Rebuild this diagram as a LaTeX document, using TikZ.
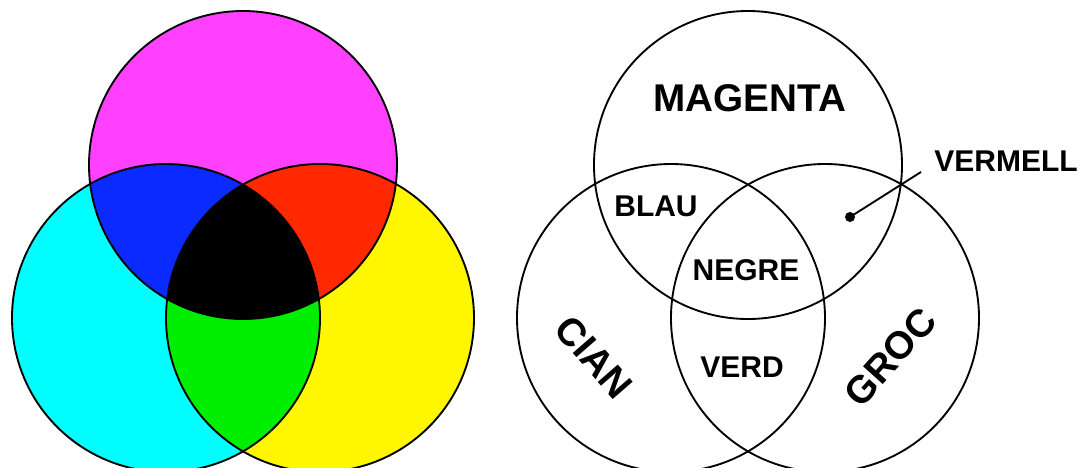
\documentclass[tikz,border=0pt]{standalone}
\usepackage{fontspec}
\setmainfont{Liberation Sans}
\usepackage{xcolor}
\usetikzlibrary{positioning}
\definecolor{Magenta}{RGB}{255,64,255}
\definecolor{Cian}{RGB}{0,255,255}
\definecolor{Groc}{RGB}{255,247,0}
\definecolor{Blau}{RGB}{10,42,255}
\definecolor{Vermell}{RGB}{255,40,0}
\definecolor{Verd}{RGB}{0,238,0}
\begin{document}
\begin{tikzpicture}[
    x=0.75pt, y=-0.75pt,
    ring/.style={draw=black, line width=1.4pt},
    big/.style={font=\bfseries\fontsize{29}{34}\selectfont},
    lbl/.style={font=\bfseries\fontsize{22.5}{27}\selectfont},
    dot/.style={circle, fill=black, inner sep=0pt, minimum size=7.5pt}
]
    \useasboundingbox (0,0) rectangle (1083,468);
    \clip (0,0) rectangle (1083,468);
    % coloured circles
    \fill[Magenta] (243,165) circle (154);
    \fill[Cian] (166,318) circle (154);
    \fill[Groc] (320,318) circle (154);
    \begin{scope}
        \clip (243,165) circle (154);
        \fill[Blau] (166,318) circle (154);
        \fill[Vermell] (320,318) circle (154);
        \clip (166,318) circle (154);
        \fill[black] (320,318) circle (154);
    \end{scope}
    \begin{scope}
        \clip (166,318) circle (154);
        \clip (320,318) circle (154);
        \fill[Verd] (320,318) circle (154);
        \clip (243,165) circle (154);
        \fill[black] (243,165) circle (154);
    \end{scope}
    \draw[ring] (243,165) circle (154);
    \draw[ring] (166,318) circle (154);
    \draw[ring] (320,318) circle (154);
    % names
    \draw[ring] (748,165) circle (154);
    \draw[ring] (671,318) circle (154);
    \draw[ring] (825,318) circle (154);
    \node[big] (mag) at (750,98) {MAGENTA};
    \node[big, rotate=-49] (cian) at (594,357) {CIAN};
    \node[big, rotate=48] (groc) at (890,357) {GROC};
    \node[lbl] (blau) at (656,206) {BLAU};
    \node[lbl] (negre) at (746,270) {NEGRE};
    \node[lbl] (verd) at (742,367) {VERD};
    \node[lbl] (verm) at (1006,161) {VERMELL};
    \node[dot] (pt) at (850,217) {};
    \coordinate (tip) at (921,172);
    \draw[line width=1.4pt] (pt.center) -- (tip);
\end{tikzpicture}
\end{document}
